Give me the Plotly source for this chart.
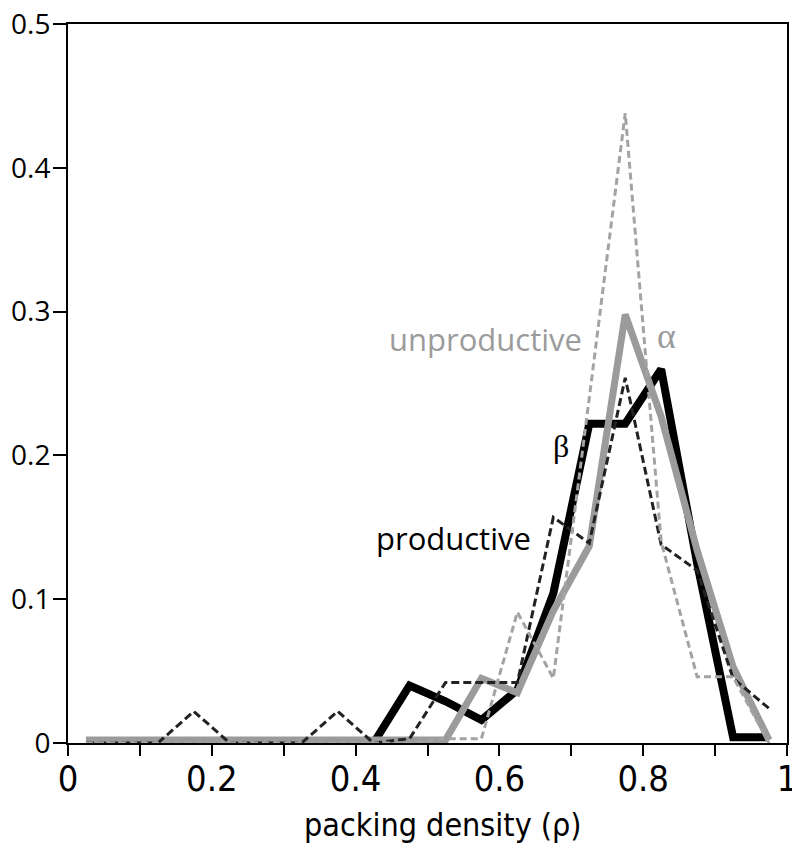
import plotly.graph_objects as go

# bin centres of the packing-density histogram
density_bins = [0.025, 0.075, 0.125, 0.175, 0.225, 0.275, 0.325, 0.375, 0.425, 0.475,
                0.525, 0.575, 0.625, 0.675, 0.725, 0.775, 0.825, 0.875, 0.925, 0.975]

# beta (black, solid)
beta_values = [0, 0, 0, 0, 0, 0, 0, 0, 0, 0.040,
               0.029, 0.016, 0.037, 0.104, 0.222, 0.222, 0.260, 0.125, 0.004, 0.004]
# alpha (grey, solid)
alpha_values = [0.002, 0.002, 0.002, 0.002, 0.002, 0.002, 0.002, 0.002, 0.002, 0.002,
                0.002, 0.045, 0.035, 0.092, 0.137, 0.298, 0.227, 0.134, 0.053, 0.002]
# productive (black, dashed)
productive_values = [0, 0, 0, 0.022, 0, 0, 0, 0.022, 0, 0.003,
                     0.042, 0.042, 0.042, 0.157, 0.139, 0.254, 0.138, 0.120, 0.045, 0.024]
# unproductive (grey, dashed)
unproductive_values = [0, 0, 0, 0, 0, 0, 0, 0, 0, 0,
                       0.003, 0.003, 0.091, 0.045, 0.240, 0.438, 0.140, 0.046, 0.046, 0]

x_tick_vals = [0, 0.1, 0.2, 0.3, 0.4, 0.5, 0.6, 0.7, 0.8, 0.9, 1.0]
x_tick_text = ["0", "", "0.2", "", "0.4", "", "0.6", "", "0.8", "", "1"]
y_tick_vals = [0, 0.1, 0.2, 0.3, 0.4, 0.5]
y_tick_text = ["0", "0.1", "0.2", "0.3", "0.4", "0.5"]

GREY = "#9b9b9b"
NARROW = "Liberation Sans Narrow, DejaVu Sans Condensed, Roboto Condensed, Roboto, sans-serif"

fig = go.Figure()
fig.add_trace(go.Scatter(x=density_bins, y=beta_values, mode="lines",
                         line=dict(color="#000000", width=8), showlegend=False))
fig.add_trace(go.Scatter(x=density_bins, y=alpha_values, mode="lines",
                         line=dict(color=GREY, width=7), showlegend=False))
fig.add_trace(go.Scatter(x=density_bins, y=productive_values, mode="lines",
                         line=dict(color="#222222", width=3, dash="8px,4px"), showlegend=False))
fig.add_trace(go.Scatter(x=density_bins, y=unproductive_values, mode="lines",
                         line=dict(color="#a3a3a3", width=3, dash="7px,4px"), showlegend=False))

annots = [
    dict(text="unproductive", x=0.58, y=0.281, color=GREY, font="Open Sans", size=31),
    dict(text="α", x=0.832, y=0.283, color=GREY, font="Liberation Serif, DejaVu Serif, serif", size=36),
    dict(text="β", x=0.686, y=0.2065, color="#000000", font="Liberation Serif, DejaVu Serif, serif", size=32),
    dict(text="productive", x=0.5355, y=0.1426, color="#000000", font="Open Sans", size=31),
]
for a in annots:
    fig.add_annotation(x=a["x"], y=a["y"], xref="x", yref="y", text=a["text"],
                       showarrow=False, xanchor="center", yanchor="middle",
                       font=dict(family=a["font"], size=a["size"], color=a["color"]))

fig.add_annotation(x=0.5216, y=-0.114, xref="paper", yref="paper",
                   text="packing density (ρ)", showarrow=False,
                   xanchor="center", yanchor="middle",
                   font=dict(family=NARROW, size=32, color="#000000"))

# the page body adds an 8px offset, so the figure is sized to fit inside 800x846
fig.update_layout(
    width=792, height=838,
    margin=dict(l=60, r=13, t=16, b=103, pad=0, autoexpand=False),
    paper_bgcolor="white", plot_bgcolor="white",
    xaxis=dict(range=[0, 1], tickvals=x_tick_vals, ticktext=x_tick_text,
               ticks="outside", ticklen=11, tickwidth=2, tickcolor="#000",
               showline=True, linewidth=2, linecolor="#000", mirror=True,
               showgrid=False, zeroline=False, automargin=False,
               ticklabelstandoff=-8, ticklabeloverflow="allow",
               tickfont=dict(family=NARROW, size=36, color="#000")),
    yaxis=dict(range=[0, 0.5], tickvals=y_tick_vals, ticktext=y_tick_text,
               ticks="outside", ticklen=13, tickwidth=2, tickcolor="#000",
               showline=True, linewidth=2, linecolor="#000", mirror=True,
               showgrid=False, zeroline=False, automargin=False,
               ticklabelstandoff=-3, ticklabeloverflow="allow",
               tickfont=dict(family="Open Sans", size=28, color="#000")),
)

fig.write_html("out.html")
